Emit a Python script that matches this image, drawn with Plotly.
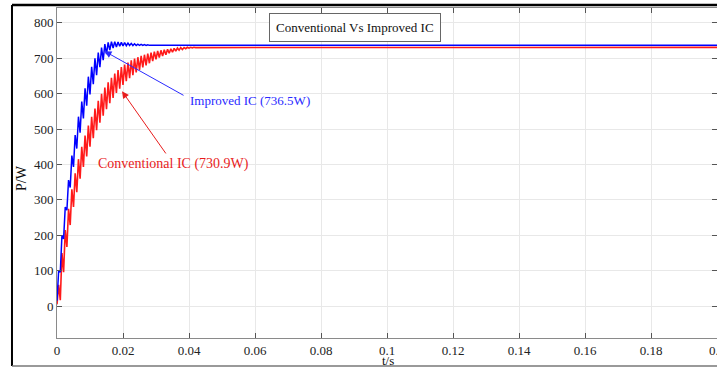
import plotly.graph_objects as go

# ---- data ----
period = 0.001          # switching period of the MPPT ripple, s
t_end = 0.2             # end of simulation, s

# Improved IC: trough values at k*period, peak values at (k+0.5)*period
improved_troughs = [15, 96, 190, 271, 335, 393, 445, 490, 530, 566, 598, 627, 652, 675,
                    695, 712, 723, 729, 732, 734, 735, 735.5, 736, 736, 736, 736.2, 736.3,
                    736.4, 736.5, 736.5, 736.5]
improved_peaks = [100, 200, 280, 356, 425, 483, 535, 578, 615, 648, 676, 700, 716, 730,
                  740, 745, 747, 747, 746, 745, 744, 743, 742, 741, 740, 739, 738.5, 738,
                  737.5, 737, 737]
improved_steady = 736.5

# Conventional IC
conv_troughs = [5, 17, 96, 167, 229, 280, 322, 360, 393, 423, 450, 474, 497, 518, 538, 556,
                573, 588, 602, 614, 625, 635, 644, 652, 660, 667, 674, 680, 686, 692, 697,
                702, 706, 710, 714, 717, 720, 723, 725, 727, 728.5, 729.5, 730.2]
conv_peaks = [60, 150, 215, 275, 330, 375, 415, 450, 482, 510, 535, 558, 580, 600, 617, 632,
              645, 657, 667, 675, 682, 688, 694, 699, 703, 707, 710, 713, 716, 718.5, 720.5,
              722.5, 724, 725.5, 727, 728, 729, 730, 730.5, 731, 731, 731]
conv_steady = 730.9

x_ticks = [0, 0.02, 0.04, 0.06, 0.08, 0.1, 0.12, 0.14, 0.16, 0.18, 0.2]
x_tick_text = ["0", "0.02", "0.04", "0.06", "0.08", "0.1", "0.12", "0.14", "0.16", "0.18", ""]
x_last_label = "0.2"    # drawn at the right edge, where the axis tick label gets cut off
y_ticks = [0, 100, 200, 300, 400, 500, 600, 700, 800]

title_text = "Conventional Vs Improved IC"
improved_label = "Improved IC (736.5W)"
conv_label = "Conventional IC (730.9W)"


def sawtooth(troughs, peaks, steady):
    t, p = [], []
    for k, tr in enumerate(troughs):
        t.append(k * period)
        p.append(tr)
        if k < len(peaks):
            t.append((k + 0.5) * period)
            p.append(peaks[k])
    t.append(t_end)
    p.append(steady)
    return t, p


t_c, p_c = sawtooth(conv_troughs, conv_peaks, conv_steady)
t_i, p_i = sawtooth(improved_troughs, improved_peaks, improved_steady)

SERIF = "Liberation Serif, Times New Roman, serif"

fig = go.Figure()
fig.add_trace(go.Scatter(x=t_c, y=p_c, mode="lines", line=dict(color="#ff1a1a", width=1.6),
                         showlegend=False, hoverinfo="skip"))
fig.add_trace(go.Scatter(x=t_i, y=p_i, mode="lines", line=dict(color="#0000ff", width=1.5),
                         showlegend=False, hoverinfo="skip"))

axis_common = dict(showgrid=True, gridcolor="#e8e8e8", gridwidth=1, zeroline=False,
                   showline=True, linecolor="#8a8a8a", linewidth=1, mirror="ticks",
                   ticks="inside", ticklen=5, tickcolor="#555555",
                   tickfont=dict(family=SERIF, size=13, color="#222222"))

fig.update_xaxes(range=[0, 0.2], tickvals=x_ticks, ticktext=x_tick_text, **axis_common)
fig.update_yaxes(range=[-90, 842], tickvals=y_ticks, **axis_common)

# annotations: title box, labels, arrows
ann = [
    dict(text=title_text, x=0.4515, y=0.9424, xref="paper", yref="paper", showarrow=False,
         xanchor="center", yanchor="middle",
         font=dict(family=SERIF, size=13, color="#111111"), bordercolor="#666666",
         borderwidth=1, borderpad=6, bgcolor="white"),
    dict(text=improved_label, x=0.0585, y=582, xref="x", yref="y", showarrow=False,
         xanchor="center", yanchor="middle",
         font=dict(family=SERIF, size=13, color="#2a2aff")),
    dict(text=conv_label, x=0.03545, y=401, xref="x", yref="y", showarrow=False,
         xanchor="center", yanchor="middle",
         font=dict(family=SERIF, size=14, color="#e81c1c")),
    dict(text="", x=0.0144, y=720, ax=0.0388, ay=593, xref="x", yref="y", axref="x", ayref="y",
         showarrow=True, arrowhead=2, arrowsize=1.4, arrowwidth=1, arrowcolor="#2a2aff",
         standoff=0, startstandoff=0),
    dict(text="", x=0.0197, y=607, ax=0.0333, ay=427, xref="x", yref="y", axref="x", ayref="y",
         showarrow=True, arrowhead=2, arrowsize=1.4, arrowwidth=1, arrowcolor="#e81c1c",
         standoff=0, startstandoff=0),
    dict(text="P/W", x=-0.053, y=0.485, xref="paper", yref="paper", showarrow=False,
         xanchor="center", yanchor="middle",
         textangle=-90, font=dict(family=SERIF, size=14, color="#111111")),
    dict(text="t/s", x=0.5015, y=-0.0667, xref="paper", yref="paper", showarrow=False,
         xanchor="center", yanchor="middle",
         font=dict(family=SERIF, size=13, color="#111111")),
    dict(text=x_last_label, x=1.0, y=-0.0364, xref="paper", yref="paper", showarrow=False,
         xanchor="center", yanchor="middle",
         font=dict(family=SERIF, size=13, color="#222222")),
]

shapes = [
    dict(type="line", xref="paper", yref="paper", x0=-0.0682, x1=1.01, y0=1.0091, y1=1.0091,
         line=dict(color="black", width=2.5)),
    dict(type="line", xref="paper", yref="paper", x0=-0.0682, x1=-0.0682, y0=1.0091, y1=-0.085,
         line=dict(color="black", width=2)),
    dict(type="line", xref="paper", yref="paper", x0=-0.0682, x1=1.01, y0=-0.085, y1=-0.085,
         line=dict(color="#777777", width=1.5)),
]

fig.update_layout(width=717, height=367, margin=dict(l=57, r=0, t=8, b=29),
                  paper_bgcolor="white", plot_bgcolor="white",
                  annotations=ann, shapes=shapes)

fig.write_html("out.html")
